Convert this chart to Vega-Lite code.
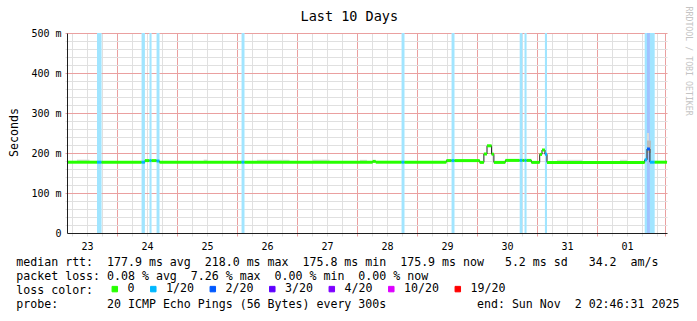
{
  "$schema": "https://vega.github.io/schema/vega-lite/v6.json",
  "width": 600,
  "height": 200,
  "autosize": "none",
  "padding": {"left": 67, "top": 33, "right": 30, "bottom": 88},
  "background": "white",
  "config": {"view": {"stroke": null}, "font": "DejaVu Sans Mono"},
  "datasets": {
    "seg": [
      {"h": 0, "h2": 12, "ms": 177, "loss": "0"},
      {"h": 12, "h2": 13.83, "ms": 177, "loss": "1/20"},
      {"h": 13.83, "h2": 29.83, "ms": 177, "loss": "0"},
      {"h": 29.83, "h2": 31.17, "ms": 177, "loss": "1/20"},
      {"h": 31.17, "h2": 33, "ms": 181, "loss": "0"},
      {"h": 33, "h2": 33.83, "ms": 181, "loss": "1/20"},
      {"h": 33.83, "h2": 35.83, "ms": 181, "loss": "0"},
      {"h": 35.83, "h2": 37, "ms": 180, "loss": "1/20"},
      {"h": 37, "h2": 69.83, "ms": 177, "loss": "0"},
      {"h": 69.83, "h2": 71, "ms": 177, "loss": "1/20"},
      {"h": 71, "h2": 122.25, "ms": 177, "loss": "0"},
      {"h": 122.25, "h2": 123.5, "ms": 179, "loss": "0"},
      {"h": 123.5, "h2": 133.83, "ms": 177, "loss": "0"},
      {"h": 133.83, "h2": 135, "ms": 177, "loss": "1/20"},
      {"h": 135, "h2": 151.75, "ms": 177, "loss": "0"},
      {"h": 151.75, "h2": 153.83, "ms": 181, "loss": "0"},
      {"h": 153.83, "h2": 155, "ms": 181, "loss": "1/20"},
      {"h": 155, "h2": 165.08, "ms": 181, "loss": "0"},
      {"h": 165.08, "h2": 166.75, "ms": 176.5, "loss": "0"},
      {"h": 166.75, "h2": 168, "ms": 197.5, "loss": "0"},
      {"h": 168, "h2": 169.83, "ms": 218, "loss": "0"},
      {"h": 169.83, "h2": 170.75, "ms": 197, "loss": "0"},
      {"h": 170.75, "h2": 175.33, "ms": 176.5, "loss": "0"},
      {"h": 175.33, "h2": 181.08, "ms": 181.5, "loss": "0"},
      {"h": 181.08, "h2": 182.17, "ms": 181.5, "loss": "1/20"},
      {"h": 182.17, "h2": 183, "ms": 181.5, "loss": "0"},
      {"h": 183, "h2": 183.83, "ms": 181.5, "loss": "1/20"},
      {"h": 183.83, "h2": 185.75, "ms": 181.5, "loss": "0"},
      {"h": 185.75, "h2": 189.08, "ms": 176.5, "loss": "0"},
      {"h": 189.08, "h2": 190, "ms": 196.5, "loss": "0"},
      {"h": 190, "h2": 191.17, "ms": 207.5, "loss": "0"},
      {"h": 191.17, "h2": 192, "ms": 197, "loss": "1/20"},
      {"h": 192, "h2": 231.08, "ms": 176.5, "loss": "0"},
      {"h": 231.08, "h2": 232, "ms": 183, "loss": "1/20"},
      {"h": 232, "h2": 233.17, "ms": 210, "loss": "2/20"},
      {"h": 233.17, "h2": 235.08, "ms": 177, "loss": "1/20"},
      {"h": 235.08, "h2": 240, "ms": 177, "loss": "0"}
    ],
    "smoke": [
      {"h": 4, "h2": 9, "lo": 175, "hi": 183.5, "level": "light"},
      {"h": 54.67, "h2": 56.25, "lo": 175, "hi": 183.5, "level": "light"},
      {"h": 76, "h2": 89, "lo": 175, "hi": 183, "level": "light"},
      {"h": 98.25, "h2": 105, "lo": 175, "hi": 183.5, "level": "light"},
      {"h": 117.17, "h2": 120, "lo": 175, "hi": 183, "level": "light"},
      {"h": 196, "h2": 206.33, "lo": 175, "hi": 183, "level": "light"},
      {"h": 221.17, "h2": 224, "lo": 175, "hi": 183, "level": "light"},
      {"h": 232, "h2": 232.83, "lo": 205, "hi": 250, "level": "light"},
      {"h": 232, "h2": 233.58, "lo": 200, "hi": 231, "level": "dark"}
    ]
  },
  "resolve": {"axis": {"x": "independent", "y": "independent"}},
  "layer": [
    {
      "data": {"name": "seg"},
      "transform": [{"filter": "datum.loss != '0'"}],
      "mark": {"type": "rect", "fill": "white"},
      "encoding": {
        "x": {
          "field": "h", "type": "quantitative",
          "scale": {"domain": [0, 240], "nice": false, "zero": false},
          "axis": {"orient": "bottom", "values": [2, 8, 14, 26, 32, 38, 50, 56, 62, 74, 80, 86, 98, 104, 110, 122, 128, 134, 146, 152, 158, 170, 176, 182, 194, 200, 206, 218, 224, 230, 236], "labels": false, "domain": false, "grid": true, "gridColor": "#e0e0e0", "gridOpacity": 1, "gridWidth": 1, "ticks": true, "tickColor": "#e0e0e0", "tickSize": 3, "tickWidth": 1, "title": null, "zindex": 0}
        },
        "x2": {"field": "h2"}
      }
    },
    {
      "data": {"name": "seg"},
      "transform": [{"filter": "datum.loss != '0'"}],
      "mark": {"type": "rect", "opacity": 0.37},
      "encoding": {
        "x": {
          "field": "h", "type": "quantitative",
          "axis": {"orient": "bottom", "values": [20, 44, 68, 92, 116, 140, 164, 188, 212, 239.2], "labels": false, "domain": false, "grid": true, "gridColor": "#eaa0a0", "gridOpacity": 1, "gridWidth": 1, "ticks": true, "tickColor": "#eaa0a0", "tickSize": 3, "tickWidth": 1, "title": null, "zindex": 0}
        },
        "x2": {"field": "h2"},
        "color": {
          "field": "loss", "type": "nominal",
          "scale": {"domain": ["0", "1/20", "2/20", "3/20", "4/20", "10/20", "19/20"], "range": ["#26ff00", "#00b8ff", "#0059ff", "#5e00ff", "#7e00ff", "#dd00ff", "#ff0000"]},
          "legend": {
            "orient": "none", "legendX": 42, "legendY": 250, "direction": "horizontal", "title": null,
            "symbolType": "square", "symbolSize": 30, "symbolStrokeColor": "black", "symbolStrokeWidth": 1, "symbolOpacity": 1,
            "labelFont": "DejaVu Sans Mono", "labelFontSize": 11.6, "labelColor": "black", "labelOffset": 7,
            "columnPadding": 12.5, "padding": 0,
            "encode": {"symbols": {"update": {"stroke": {"value": "black"}, "strokeWidth": {"value": 1}, "strokeOpacity": {"value": 1}}}}
          }
        }
      }
    },
    {
      "data": {"name": "smoke"},
      "transform": [{"filter": "datum.level == 'light'"}],
      "mark": {"type": "rect", "fill": "#dadada"},
      "encoding": {
        "x": {"field": "h", "type": "quantitative", "axis": null},
        "x2": {"field": "h2"},
        "y": {
          "field": "lo", "type": "quantitative",
          "scale": {"domain": [0, 500], "nice": false, "zero": false},
          "axis": {"orient": "left", "values": [20, 40, 60, 80, 120, 140, 160, 180, 220, 240, 260, 280, 320, 340, 360, 380, 420, 440, 460, 480], "labels": false, "domain": false, "grid": true, "gridColor": "#e0e0e0", "gridOpacity": 1, "ticks": true, "tickColor": "#e0e0e0", "tickSize": 2, "title": null, "zindex": 0}
        },
        "y2": {"field": "hi"}
      }
    },
    {
      "data": {"name": "smoke"},
      "transform": [{"filter": "datum.level == 'dark'"}],
      "mark": {"type": "rect", "fill": "#bcbcbc"},
      "encoding": {
        "x": {"field": "h", "type": "quantitative", "axis": null},
        "x2": {"field": "h2"},
        "y": {"field": "lo", "type": "quantitative", "axis": null},
        "y2": {"field": "hi"}
      }
    },
    {
      "data": {"name": "seg"},
      "mark": {"type": "line", "interpolate": "step-after", "color": "#202020", "strokeWidth": 1},
      "encoding": {
        "x": {
          "field": "h", "type": "quantitative",
          "axis": {
            "orient": "bottom",
            "values": [8, 32, 56, 80, 104, 128, 152, 176, 200, 224],
            "labelExpr": "['23','24','25','26','27','28','29','30','31','01'][round((datum.value - 8) / 24)]",
            "labelFont": "DejaVu Sans Mono", "labelFontSize": 10, "labelColor": "black", "labelPadding": 8,
            "labelFlush": false, "labelOverlap": false,
            "ticks": false, "tickSize": 0, "grid": false,
            "domain": true, "domainColor": "#1f1f1f", "domainWidth": 1, "zindex": 1,
            "title": [
              "median\u00a0rtt:\u00a0\u00a0177.9\u00a0ms\u00a0avg\u00a0\u00a0218.0\u00a0ms\u00a0max\u00a0\u00a0175.8\u00a0ms\u00a0min\u00a0\u00a0175.9\u00a0ms\u00a0now\u00a0\u00a0\u00a05.2\u00a0ms\u00a0sd\u00a0\u00a0\u00a034.2\u00a0\u00a0am/s",
              "packet\u00a0loss:\u00a00.08\u00a0%\u00a0avg\u00a0\u00a07.26\u00a0%\u00a0max\u00a0\u00a00.00\u00a0%\u00a0min\u00a0\u00a00.00\u00a0%\u00a0now",
              "loss\u00a0color:",
              "probe:\u00a0\u00a0\u00a0\u00a0\u00a0\u00a0\u00a020\u00a0ICMP\u00a0Echo\u00a0Pings\u00a0(56\u00a0Bytes)\u00a0every\u00a0300s\u00a0\u00a0\u00a0\u00a0\u00a0\u00a0\u00a0\u00a0\u00a0\u00a0\u00a0\u00a0\u00a0end:\u00a0Sun\u00a0Nov\u00a0\u00a02\u00a002:46:31\u00a02025"
            ],
            "titleFont": "DejaVu Sans Mono", "titleFontSize": 11.6, "titleFontWeight": "normal", "titleColor": "black",
            "titleAlign": "left", "titleAnchor": "start", "titleBaseline": "alphabetic",
            "titleX": -51.2, "titleY": 32, "titleLineHeight": 14, "titleLimit": 1000, "titlePadding": 0
          }
        },
        "y": {
          "field": "ms", "type": "quantitative",
          "axis": {"orient": "left", "values": [100, 200, 300, 400, 500], "labels": false, "domain": false, "grid": true, "gridColor": "#eaa0a0", "gridOpacity": 1, "ticks": true, "tickColor": "#eaa0a0", "tickSize": 2, "title": null, "zindex": 0}
        }
      }
    },
    {
      "data": {"name": "seg"},
      "mark": {"type": "rule", "strokeWidth": 3},
      "encoding": {
        "x": {
          "field": "h", "type": "quantitative",
          "axis": {
            "orient": "top", "labels": false, "ticks": false, "domain": false, "grid": false,
            "title": "Last 10 Days", "titleFont": "DejaVu Sans Mono", "titleFontSize": 13.5, "titleFontWeight": "normal", "titleColor": "black",
            "titleAlign": "center", "titleBaseline": "alphabetic", "titleX": 281.8, "titleY": -12.3, "titlePadding": 0
          }
        },
        "x2": {"field": "h2"},
        "y": {
          "field": "ms", "type": "quantitative",
          "axis": {
            "orient": "left", "values": [0, 100, 200, 300, 400, 500],
            "labelExpr": "datum.value == 0 ? '0' : datum.value + ' m'",
            "labelFont": "DejaVu Sans Mono", "labelFontSize": 10, "labelColor": "black", "labelPadding": 6,
            "labelFlush": false, "labelOverlap": false, "labelBaseline": "middle",
            "ticks": false, "tickSize": 0, "grid": false,
            "domain": true, "domainColor": "#1f1f1f", "domainWidth": 1, "zindex": 1,
            "title": "Seconds", "titleFont": "DejaVu Sans Mono", "titleFontSize": 11.6, "titleFontWeight": "normal", "titleColor": "black",
            "titleAngle": 270, "titleAlign": "center", "titleBaseline": "middle", "titleX": -52.3, "titleY": 99, "titlePadding": 0
          }
        },
        "color": {"field": "loss", "type": "nominal", "legend": null}
      }
    },
    {
      "mark": {"type": "rule", "color": "#1f1f1f", "strokeWidth": 1},
      "encoding": {
        "x": {"datum": 0.2, "type": "quantitative", "axis": null},
        "y": {"datum": 500, "type": "quantitative", "axis": null},
        "y2": {"datum": 510}
      }
    },
    {
      "mark": {"type": "rule", "color": "#1f1f1f", "strokeWidth": 1},
      "encoding": {
        "x": {"datum": 240, "type": "quantitative", "axis": null},
        "x2": {"datum": 241.3},
        "y": {"datum": -1.25, "type": "quantitative", "axis": null}
      }
    },
    {
      "mark": {"type": "point", "shape": "triangle-up", "size": 25, "filled": true, "color": "#801f1f", "opacity": 1},
      "encoding": {
        "x": {"datum": 0.2, "type": "quantitative", "axis": null},
        "y": {"datum": 512, "type": "quantitative", "axis": null}
      }
    },
    {
      "mark": {"type": "point", "shape": "triangle-right", "size": 25, "filled": true, "color": "#801f1f", "opacity": 1},
      "encoding": {
        "x": {"datum": 241.68, "type": "quantitative", "axis": null},
        "y": {
          "datum": -1.25, "type": "quantitative",
          "axis": {
            "orient": "right", "labels": false, "ticks": false, "domain": false, "grid": false,
            "title": "RRDTOOL / TOBI OETIKER", "titleFont": "DejaVu Sans Mono", "titleFontSize": 8.25, "titleFontWeight": "normal", "titleColor": "#c4c4c4",
            "titleAngle": 90, "titleAlign": "left", "titleBaseline": "middle", "titleX": 20, "titleY": -27, "titlePadding": 0
          }
        }
      }
    }
  ]
}
